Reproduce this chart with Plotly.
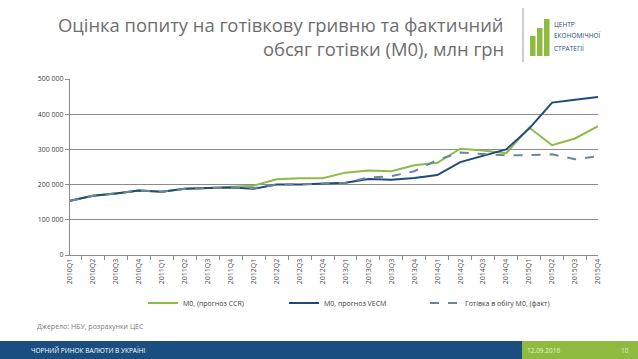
import plotly.graph_objects as go

quarters = [f"{y}Q{q}" for y in range(2010, 2016) for q in range(1, 5)]
m0_ccr = [154000, 168000, 175000, 183000, 180000, 188000, 190000, 193000,
          197000, 215000, 218000, 218000, 234000, 240000, 238000, 255000,
          262000, 302000, 297000, 289000, 362000, 312000, 331000, 366000]
m0_vecm = [154000, 168000, 175000, 183000, 180000, 188000, 190000, 192000,
           188000, 200000, 200000, 203000, 205000, 216000, 214000, 219000,
           227000, 264000, 281000, 300000, 359000, 433000, 441000, 449000]
m0_fact = [154000, 168000, 175000, 183000, 180000, 188000, 190000, 192000,
           190000, 200000, 201000, 203000, 205000, 220000, 224000, 238000,
           270000, 291000, 288000, 283000, 284000, 286000, 272000, 281000]
y_ticks = [0, 100000, 200000, 300000, 400000, 500000]
y_tick_text = ["0", "100 000", "200 000", "300 000", "400 000", "500 000"]

W, H = 638, 359
L, R, T, B = 70, 598, 79, 255


def px(x):
    return (x - L) / (R - L)


def py(y):
    return (B - y) / (B - T)


FONT = "Open Sans"
fig = go.Figure()
fig.add_trace(go.Scatter(x=quarters, y=m0_ccr, mode="lines", name="М0, (прогноз CCR)",
                         line=dict(color="#8CBB4A", width=2)))
fig.add_trace(go.Scatter(x=quarters, y=m0_vecm, mode="lines", name="М0, прогноз VECM",
                         line=dict(color="#1F4B7A", width=2)))
fig.add_trace(go.Scatter(x=quarters, y=m0_fact, mode="lines", name="Готівка в обігу М0, (факт)",
                         line=dict(color="#6C8699", width=2, dash="dash")))

fig.update_layout(
    width=W, height=H,
    margin=dict(l=L, r=W - R, t=T, b=H - B, pad=0),
    paper_bgcolor="white", plot_bgcolor="white",
    font=dict(family=FONT, size=7, color="#404040"),
    showlegend=True,
    legend=dict(orientation="h", x=px(143), xanchor="left", y=py(303), yanchor="middle",
                font=dict(size=7, color="#404040"), itemwidth=30,
                entrywidth=96, entrywidthmode="pixels", bgcolor="rgba(0,0,0,0)"),
    xaxis=dict(type="category", tickangle=-90, ticks="outside", ticklen=4,
               tickson="boundaries", tickcolor="#8c8c8c", showline=True,
               linecolor="#8c8c8c", linewidth=1, showgrid=False,
               tickfont=dict(size=7, color="#505050"), fixedrange=True),
    yaxis=dict(range=[0, 500000], tickvals=y_ticks, ticktext=y_tick_text,
               showgrid=True, gridcolor="#8c8c8c", gridwidth=1, showline=True,
               linecolor="#8c8c8c", ticks="outside", ticklen=4, tickcolor="#8c8c8c",
               tickfont=dict(size=7, color="#404040"), zeroline=False, fixedrange=True),
)

shapes = [
    dict(type="rect", xref="paper", yref="paper", x0=px(0), x1=px(522), y0=py(359), y1=py(341),
         fillcolor="#1B4E80", line=dict(width=0), layer="above"),
    dict(type="rect", xref="paper", yref="paper", x0=px(522), x1=px(638), y0=py(359), y1=py(341),
         fillcolor="#8CBB3F", line=dict(width=0), layer="above"),
    dict(type="line", xref="paper", yref="paper", x0=px(523), x1=px(523), y0=py(8), y1=py(62),
         line=dict(color="#9a9a9a", width=1)),
    dict(type="rect", xref="paper", yref="paper", x0=px(530), x1=px(535.5), y0=py(56), y1=py(36),
         fillcolor="#8CBB3F", line=dict(width=0)),
    dict(type="rect", xref="paper", yref="paper", x0=px(537), x1=px(542.5), y0=py(56), y1=py(28),
         fillcolor="#8CBB3F", line=dict(width=0)),
    dict(type="rect", xref="paper", yref="paper", x0=px(544), x1=px(549.5), y0=py(56), y1=py(19),
         fillcolor="#8CBB3F", line=dict(width=0)),
]
fig.update_layout(shapes=shapes)

ann = []


def text(x, y, s, size, color, xanchor="left", yanchor="middle"):
    ann.append(dict(x=px(x), y=py(y), xref="paper", yref="paper", text=s, showarrow=False,
                    xanchor=xanchor, yanchor=yanchor, align=xanchor if xanchor != "center" else "center",
                    borderpad=0,
                    font=dict(family=FONT, size=size, color=color)))


text(505, 25, "Оцінка попиту на готівкову гривню та фактичний", 18.4, "#6e6e6e", xanchor="right")
text(505, 48, "обсяг готівки (М0), млн грн", 18.4, "#6e6e6e", xanchor="right")
text(553, 24, "ЦЕНТР", 6.5, "#1F4B7A")
text(553, 36, "ЕКОНОМІЧНОЇ", 6.5, "#1F4B7A")
text(553, 48, "СТРАТЕГІЇ", 6.5, "#1F4B7A")
text(36, 326, "Джерело: НБУ, розрахунки ЦЕС", 7, "#7a7a7a")
text(30, 350, "ЧОРНИЙ РИНОК ВАЛЮТИ В УКРАЇНІ", 6.5, "#ffffff")
text(526, 350, "12.09.2016", 6.5, "#e8f2d8")
text(620, 350, "10", 6.5, "#e8f2d8")
fig.update_layout(annotations=ann)

fig.write_html("out.html", config={"displayModeBar": False},
               post_script="document.body.style.margin='0';document.body.style.overflow='hidden';")
